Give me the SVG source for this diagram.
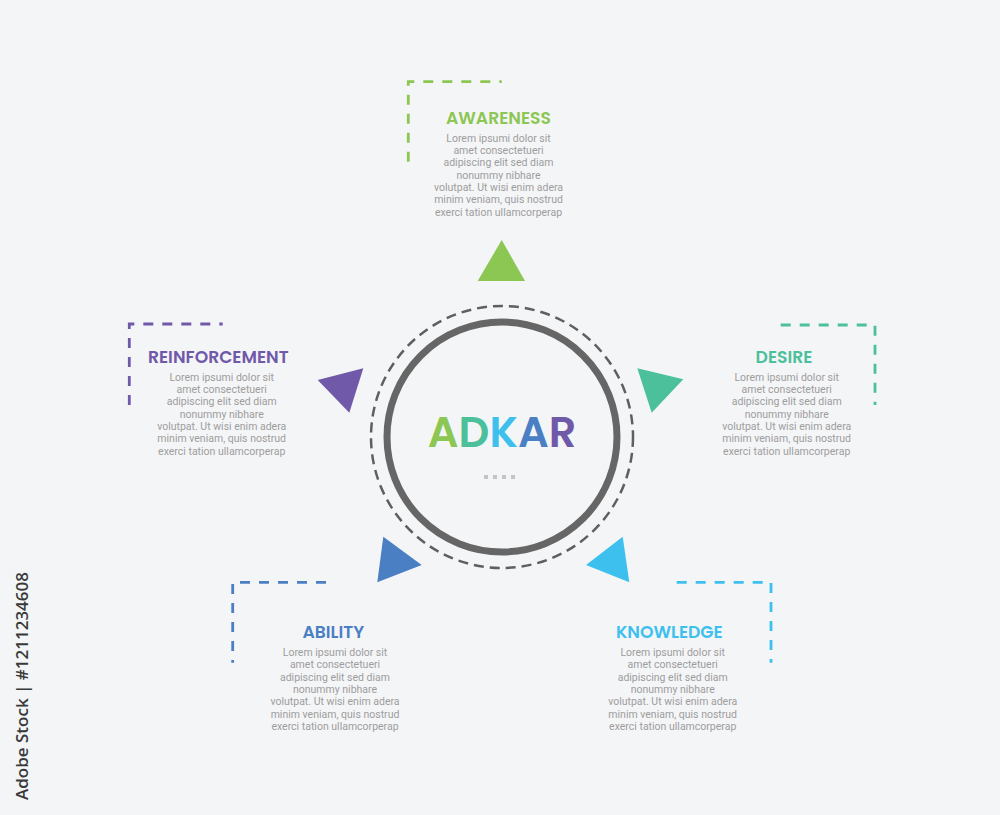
<svg xmlns="http://www.w3.org/2000/svg" width="1000" height="815" viewBox="0 0 1000 815">
<style>
.title{font-family:"Poppins","Open Sans","Liberation Sans",sans-serif;font-weight:600;font-size:17.2px;text-anchor:middle}
.body{font-family:Roboto,"Liberation Sans",sans-serif;font-size:10.5px;fill:#9d9d9d;text-anchor:middle}
.corner{fill:none;stroke-width:2.8;stroke-dasharray:10 9}
</style>
<rect width="1000" height="815" fill="#f4f5f7"/>
<g id="center">
<circle cx="502" cy="437" r="131" fill="none" stroke="#5f5f5f" stroke-width="2.5" stroke-dasharray="10 6"/>
<circle cx="502" cy="437" r="115" fill="none" stroke="#666666" stroke-width="7"/>
<text x="502" y="447" text-anchor="middle" font-family="Poppins,Open Sans,Liberation Sans,sans-serif" font-weight="600" font-size="43"><tspan fill="#8cc653">A</tspan><tspan fill="#4cbf9b">D</tspan><tspan fill="#3ec0ef">K</tspan><tspan fill="#4a7fc4">A</tspan><tspan fill="#7059a8">R</tspan></text>
<g fill="#c4c4c4"><rect x="484" y="475" width="4" height="4"/><rect x="493" y="475" width="4" height="4"/><rect x="502" y="475" width="4" height="4"/><rect x="511" y="475" width="4" height="4"/></g>
</g>
<g id="connectors">
<polygon points="501.7,240 477.7,281 525,281" fill="#8cc653"/>
<polygon points="637.3,368.3 683.3,379.3 651.7,412.7" fill="#4cbf9b"/>
<polygon points="317.7,380 363.3,368.3 349.3,412.7" fill="#7059a8"/>
<polygon points="383.3,536.7 421.7,565 377.3,582.3" fill="#4a7fc4"/>
<polygon points="622.7,536.7 586,565 629.3,582.3" fill="#3ec0ef"/>
</g>
<g id="awareness">
<path class="corner" d="M408.3,161.7 V81.7 H501.7" stroke="#8cc653"/>
<text class="title" x="498.5" y="124" fill="#8cc653">AWARENESS</text>
<text class="body"><tspan x="498.5" y="141.7">Lorem ipsumi dolor sit</tspan><tspan x="498.5" y="154">amet consectetueri</tspan><tspan x="498.5" y="166.4">adipiscing elit sed diam</tspan><tspan x="498.5" y="178.7">nonummy nibhare</tspan><tspan x="498.5" y="191">volutpat. Ut wisi enim adera</tspan><tspan x="498.5" y="203.4">minim veniam, quis nostrud</tspan><tspan x="498.5" y="215.7">exerci tation ullamcorperap</tspan></text>
</g>
<g id="desire">
<path class="corner" d="M780.7,325 H875 V405" stroke="#4cbf9b"/>
<text class="title" x="784" y="362.7" fill="#4cbf9b">DESIRE</text>
<text class="body"><tspan x="786.7" y="380.7">Lorem ipsumi dolor sit</tspan><tspan x="786.7" y="393">amet consectetueri</tspan><tspan x="786.7" y="405.4">adipiscing elit sed diam</tspan><tspan x="786.7" y="417.7">nonummy nibhare</tspan><tspan x="786.7" y="430">volutpat. Ut wisi enim adera</tspan><tspan x="786.7" y="442.4">minim veniam, quis nostrud</tspan><tspan x="786.7" y="454.7">exerci tation ullamcorperap</tspan></text>
</g>
<g id="reinforcement">
<path class="corner" d="M129.3,405 V324 H222.7" stroke="#7059a8"/>
<text class="title" x="218.3" y="362.7" fill="#7059a8">REINFORCEMENT</text>
<text class="body"><tspan x="221.7" y="380.7">Lorem ipsumi dolor sit</tspan><tspan x="221.7" y="393">amet consectetueri</tspan><tspan x="221.7" y="405.4">adipiscing elit sed diam</tspan><tspan x="221.7" y="417.7">nonummy nibhare</tspan><tspan x="221.7" y="430">volutpat. Ut wisi enim adera</tspan><tspan x="221.7" y="442.4">minim veniam, quis nostrud</tspan><tspan x="221.7" y="454.7">exerci tation ullamcorperap</tspan></text>
</g>
<g id="ability">
<path class="corner" d="M326,582.3 H232.7 V662.7" stroke="#4a7fc4"/>
<text class="title" x="333.3" y="638.3" fill="#4a7fc4">ABILITY</text>
<text class="body"><tspan x="335" y="656">Lorem ipsumi dolor sit</tspan><tspan x="335" y="668.3">amet consectetueri</tspan><tspan x="335" y="680.7">adipiscing elit sed diam</tspan><tspan x="335" y="693">nonummy nibhare</tspan><tspan x="335" y="705.3">volutpat. Ut wisi enim adera</tspan><tspan x="335" y="717.7">minim veniam, quis nostrud</tspan><tspan x="335" y="730">exerci tation ullamcorperap</tspan></text>
</g>
<g id="knowledge">
<path class="corner" d="M676.7,582.3 H771 V662.7" stroke="#3ec0ef"/>
<text class="title" x="669.3" y="638.3" fill="#3ec0ef">KNOWLEDGE</text>
<text class="body"><tspan x="672.7" y="656">Lorem ipsumi dolor sit</tspan><tspan x="672.7" y="668.3">amet consectetueri</tspan><tspan x="672.7" y="680.7">adipiscing elit sed diam</tspan><tspan x="672.7" y="693">nonummy nibhare</tspan><tspan x="672.7" y="705.3">volutpat. Ut wisi enim adera</tspan><tspan x="672.7" y="717.7">minim veniam, quis nostrud</tspan><tspan x="672.7" y="730">exerci tation ullamcorperap</tspan></text>
</g>
<text transform="translate(28,800) rotate(-90)" font-family="Open Sans,Liberation Sans,sans-serif" font-weight="600" font-size="17" fill="#3a3a3a">Adobe Stock | #1211234608</text>
</svg>
